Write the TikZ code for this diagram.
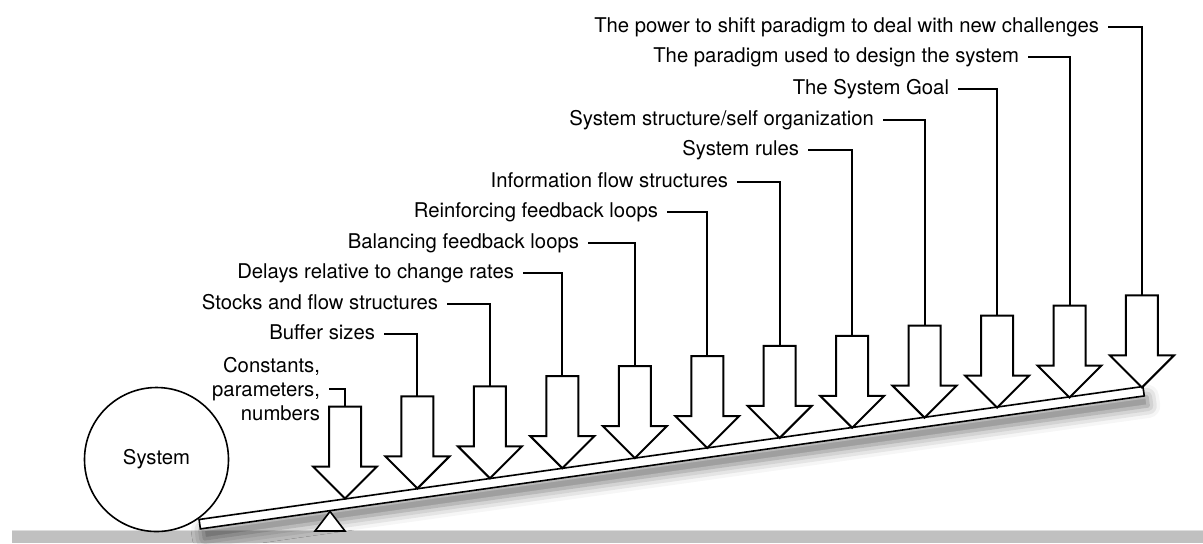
\documentclass[tikz,border=0pt]{standalone}
\usepackage{fontspec}
\setmainfont{TeX Gyre Heros}
\usetikzlibrary{shapes.arrows}
\usetikzlibrary{shadows.blur}
\definecolor{groundgray}{RGB}{192,192,192}
\definecolor{groundedge}{RGB}{222,222,222}

\begin{document}
\begin{tikzpicture}[x=0.5pt, y=-0.5pt, font=\fontsize{10.15}{12}\selectfont,
  lever/.style={rectangle, draw, fill=white, line width=0.8pt, minimum width=476.6pt,
    minimum height=4.75pt, inner sep=0pt,
    blur shadow={shadow xshift=2pt, shadow yshift=-5pt, shadow blur radius=6pt, shadow opacity=55}},
  push/.style={single arrow, draw, fill=white, line width=1pt, rotate=-90,
    minimum height=46pt, single arrow head extend=8pt,
    single arrow tip angle=90, inner xsep=0pt, inner ysep=7.5pt, outer sep=0pt, anchor=tip},
  lab/.style={inner xsep=0pt, outer xsep=4.5pt, anchor=east},
  row/.style={lab, text height=7.3pt, text depth=2pt},
  conn/.style={line width=1pt}]
\def\lw{0.8pt}
\useasboundingbox (0,0) rectangle (1203,543);
% ground
\fill[groundgray] (12,530) rectangle (1203,543);
\draw[groundedge, line width=0.6pt] (12,530.5) -- (1203,530.5);
% the system and the lever
\node[circle, draw, fill=white, line width=\lw, minimum size=72pt, inner sep=0pt] (sys) at (156.5,459.5) {System};
\node[lever, rotate=8.02] (lever) at (671.65,457.7) {};
\draw[line width=\lw, fill=white] (315,531) -- (330,511.5) -- (345,531) -- cycle;
% leverage points
\node[push] (a1)  at (345.00,498.5) {};
\node[push] (a2)  at (417.45,488.4) {};
\node[push] (a3)  at (489.90,478.3) {};
\node[push] (a4)  at (562.35,468.2) {};
\node[push] (a5)  at (634.80,458.1) {};
\node[push] (a6)  at (707.25,448.0) {};
\node[push] (a7)  at (779.70,437.9) {};
\node[push] (a8)  at (852.15,427.8) {};
\node[push] (a9)  at (924.60,417.7) {};
\node[push] (a10) at (997.05,407.6) {};
\node[push] (a11) at (1069.50,397.5) {};
\node[push] (a12) at (1141.95,387.4) {};
% labels
\node[lab, align=right] (l1) at (329,389) {Constants,\\parameters,\\numbers};
\node[row] (l2)  at (384,334) {Buffer sizes};
\node[row] (l3)  at (447,304) {Stocks and flow structures};
\node[row] (l4)  at (523,273) {Delays relative to change rates};
\node[row] (l5)  at (588,243) {Balancing feedback loops};
\node[row] (l6)  at (667,212) {Reinforcing feedback loops};
\node[row] (l7)  at (737,182) {Information flow structures};
\node[row] (l8)  at (808,150) {System rules};
\node[row] (l9)  at (883,120) {System structure/self organization};
\node[row] (l10) at (958,89)  {The System Goal};
\node[row] (l11) at (1028,57) {The paradigm used to design the system};
\node[row] (l12) at (1108,27) {The power to shift paradigm to deal with new challenges};
% connectors
\draw[conn] (l1.east) -| (a1.tail);
\draw[conn] (l2.east) -| (a2.tail);
\draw[conn] (l3.east) -| (a3.tail);
\draw[conn] (l4.east) -| (a4.tail);
\draw[conn] (l5.east) -| (a5.tail);
\draw[conn] (l6.east) -| (a6.tail);
\draw[conn] (l7.east) -| (a7.tail);
\draw[conn] (l8.east) -| (a8.tail);
\draw[conn] (l9.east) -| (a9.tail);
\draw[conn] (l10.east) -| (a10.tail);
\draw[conn] (l11.east) -| (a11.tail);
\draw[conn] (l12.east) -| (a12.tail);
\end{tikzpicture}
\end{document}
